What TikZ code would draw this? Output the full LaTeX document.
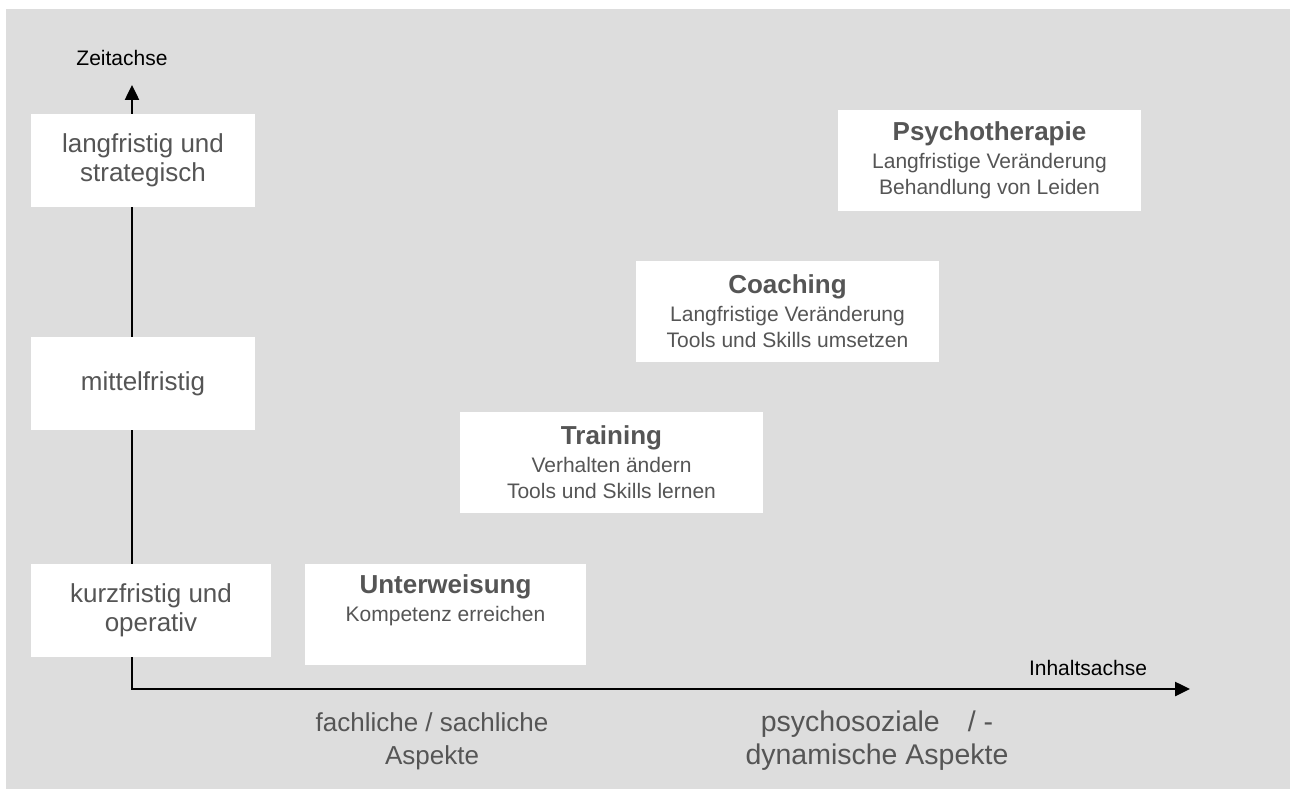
\documentclass[tikz,border=0pt]{standalone}
\usepackage{fontspec}
\setmainfont{Liberation Sans}
\usepackage{xcolor}
\usetikzlibrary{arrows.meta}
\definecolor{hintergrund}{HTML}{DDDDDD}
\definecolor{schrift}{HTML}{555555}
\newcommand{\feldtitel}[1]{{\fontsize{26}{30}\selectfont\bfseries #1}}

\begin{document}
\begin{tikzpicture}[x=1pt,y=-1pt,
  achse/.style={line width=2.5pt,{Triangle[length=15pt,width=14pt]}-{Triangle[length=15pt,width=14pt]}},
  stufe/.style={fill=white,text=schrift,align=center,minimum width=224pt,minimum height=93pt,font=\fontsize{26}{29}\selectfont},
  feld/.style={fill=white,text=schrift,align=center,minimum width=303pt,minimum height=101pt,font=\fontsize{21}{26}\selectfont},
  beschriftung/.style={text=black,font=\fontsize{21}{26}\selectfont},
  aspekt/.style={text=schrift,align=center,font=\fontsize{26}{33}\selectfont}]
  \useasboundingbox (0,0) rectangle (1290,789);
  \fill[hintergrund] (6,9) rectangle (1290,789);

  \coordinate (ursprung) at (132,689);
  \coordinate (zeitende) at (132,85);
  \coordinate (inhaltende) at (1190,689);
  \draw[achse] (zeitende) -- (ursprung) -- (inhaltende);

  \node[beschriftung] (zeitachse) at (122,58) {Zeitachse};
  \node[beschriftung] (inhaltsachse) at (1088,668) {Inhaltsachse};

  \node[stufe] (lang) at (143,160.5) {langfristig und\\strategisch};
  \node[stufe] (mittel) at (143,383.5) {mittelfristig};
  \node[stufe,minimum width=240pt] (kurz) at (151,610.5) {kurzfristig und\\operativ};

  \node[feld,minimum width=281pt] (unterweisung) at (445.5,614.5)
    {\feldtitel{Unterweisung}\\[2pt]Kompetenz erreichen\\\strut};
  \node[feld] (training) at (611.5,462.5)
    {\feldtitel{Training}\\[2pt]Verhalten ändern\\Tools und Skills lernen};
  \node[feld] (coaching) at (787.5,311.5)
    {\feldtitel{Coaching}\\[2pt]Langfristige Veränderung\\Tools und Skills umsetzen};
  \node[feld] (psychotherapie) at (989.5,160.5)
    {\feldtitel{Psychotherapie}\\[2pt]Langfristige Veränderung\\Behandlung von Leiden};

  \node[aspekt] (fachlich) at (432,741) {fachliche / sachliche\\Aspekte};
  \node[aspekt,font=\fontsize{28.5}{33}\selectfont] (psychosozial) at (877,741)
    {psychosoziale\hspace{28pt}/ -\\dynamische Aspekte};
\end{tikzpicture}
\end{document}
